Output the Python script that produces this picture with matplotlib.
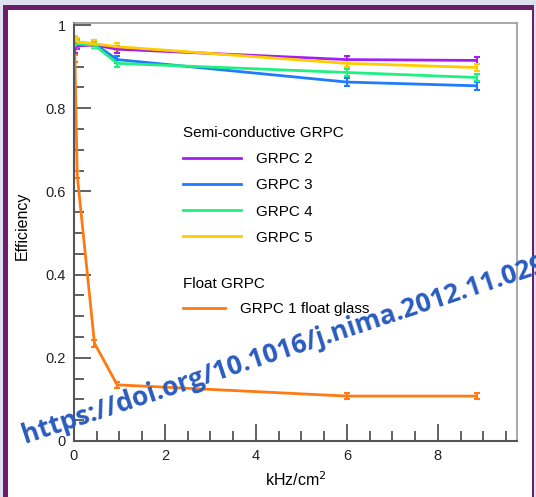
import numpy as np
import matplotlib
matplotlib.use("Agg")
import matplotlib.pyplot as plt
from matplotlib.ticker import MultipleLocator, FuncFormatter
from matplotlib.patches import Rectangle

plt.rcParams['font.family'] = ['Liberation Sans', 'DejaVu Sans']

# rate (kHz/cm2) and efficiency of the semi-conductive chambers
rate_semi = [0.02, 0.06, 0.45, 0.95, 6.0, 8.85]
eff_grpc2 = [0.940, 0.950, 0.952, 0.942, 0.917, 0.915]
eff_grpc3 = [0.955, 0.958, 0.955, 0.917, 0.863, 0.854]
eff_grpc4 = [0.950, 0.955, 0.952, 0.908, 0.886, 0.874]
eff_grpc5 = [0.965, 0.960, 0.955, 0.948, 0.908, 0.898]
err_semi = [0.008, 0.008, 0.008, 0.008, 0.009, 0.009]

# float glass chamber
rate_float = [0.02, 0.07, 0.45, 0.95, 6.0, 8.85]
eff_float = [0.920, 0.640, 0.235, 0.135, 0.108, 0.108]
err_float = [0.008, 0.008, 0.009, 0.008, 0.008, 0.008]

semi_names = ["GRPC 2", "GRPC 3", "GRPC 4", "GRPC 5"]
semi_colors = ["#a31ff0", "#1f7bff", "#1ff07f", "#ffcc00"]
float_color = "#ff7a12"

fig = plt.figure(figsize=(5.36, 4.97), dpi=100)
fig.patch.set_facecolor("white")

# purple frame of the slide
fig.add_artist(Rectangle((0, 0), 1, 1, transform=fig.transFigure, facecolor="#dfe1f2", edgecolor="none", zorder=-3))
fig.add_artist(Rectangle((3/536, -0.01), 531/536, 1 - 5/497 + 0.01, transform=fig.transFigure, facecolor="#6c1d6c", edgecolor="none", zorder=-2))
fig.add_artist(Rectangle((8/536, -0.01), 524/536, 1 - 10/497 + 0.01, transform=fig.transFigure, facecolor="white", edgecolor="none", zorder=-1))

ax = fig.add_axes([74/536, 1 - 441/497, 443/536, 418/497])
ax.set_facecolor("white")

handles = []
for vals, name, col in zip([eff_grpc2, eff_grpc3, eff_grpc4, eff_grpc5], semi_names, semi_colors):
    ax.errorbar(rate_semi, vals, yerr=err_semi, color=col, lw=2, elinewidth=1.5, capsize=2.5, capthick=1.5)
    h, = ax.plot([], [], color=col, lw=2)
    handles.append(h)

ax.errorbar(rate_float, eff_float, yerr=err_float, color=float_color, lw=2, elinewidth=1.5, capsize=2.5, capthick=1.5)
hf, = ax.plot([], [], color=float_color, lw=2)

ax.set_xlim(0, 9.74)
ax.set_ylim(0, 1.005)
ax.xaxis.set_major_locator(MultipleLocator(2))
ax.xaxis.set_minor_locator(MultipleLocator(0.5))
ax.yaxis.set_major_locator(MultipleLocator(0.2))
ax.yaxis.set_minor_locator(MultipleLocator(0.05))
ax.yaxis.set_major_formatter(FuncFormatter(lambda v, p: "%g" % round(v, 2)))
ax.tick_params(which="both", direction="in", color="#555555", width=1.3, labelsize=10.5, labelcolor="#222222", top=False, right=False)
ax.tick_params(which="major", length=12, pad=6)
ax.tick_params(which="minor", length=7)
for s in ["left", "bottom"]:
    ax.spines[s].set_color("#555555")
    ax.spines[s].set_linewidth(1.5)
for s in ["top", "right"]:
    ax.spines[s].set_color("#999999")
    ax.spines[s].set_linewidth(1.2)

ax.set_xlabel("kHz/cm$^2$", fontsize=11.5, labelpad=5)
ax.set_ylabel("Efficiency", fontsize=11.5)
ax.yaxis.set_label_coords(-0.101, 0.515)

leg1 = ax.legend(handles, semi_names, title="Semi-conductive GRPC", loc="upper left",
                 bbox_to_anchor=(0.228, 0.772), frameon=False, fontsize=11, title_fontsize=11,
                 handlelength=3.8, handletextpad=1.0, labelspacing=0.8, borderpad=0, alignment="left")
ax.add_artist(leg1)
ax.legend([hf], ["GRPC 1 float glass"], title="Float GRPC", loc="upper left",
          bbox_to_anchor=(0.228, 0.41), frameon=False, fontsize=11, title_fontsize=11,
          handlelength=2.75, handletextpad=1.0, labelspacing=0.7, borderpad=0, alignment="left")

fig.text(0.529, 0.297, "https://doi.org/10.1016/j.nima.2012.11.029", color="#2a5bbf",
         fontsize=19, fontweight="bold", family=["Open Sans", "DejaVu Sans"],
         rotation=18.3, rotation_mode="anchor", ha="center", va="center", zorder=10)

plt.savefig("out.png", dpi=100)
plt.close()
